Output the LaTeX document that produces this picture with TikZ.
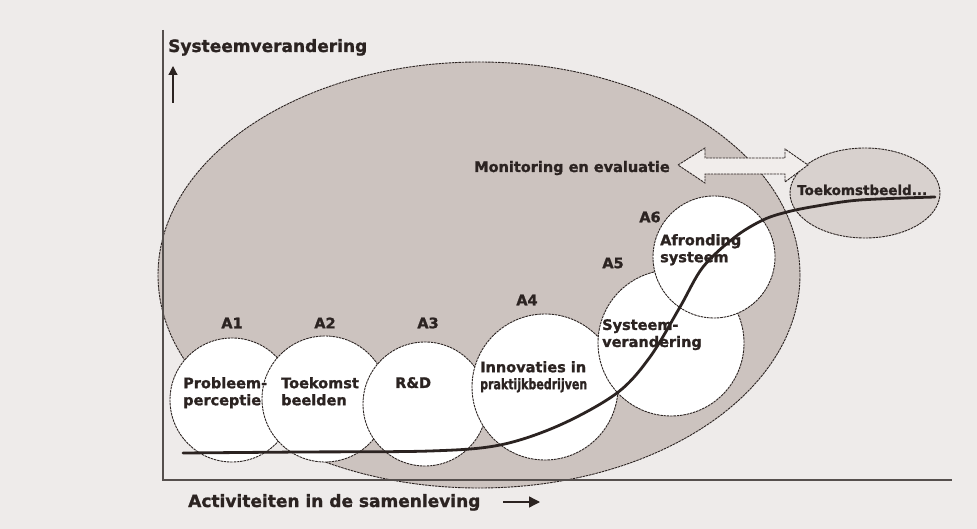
\documentclass[tikz,border=0pt]{standalone}
\usepackage{fontspec}
\setmainfont{DejaVu Sans}
\newfontfamily\heavyfont{DejaVu Sans Bold}[FakeBold=1.3]
\usetikzlibrary{arrows.meta}
\definecolor{bg}{HTML}{EEEBEA}
\definecolor{ell}{HTML}{CCC3BF}
\definecolor{ellb}{HTML}{D8D1CE}
\definecolor{ink}{HTML}{2B2321}
\definecolor{arrfill}{HTML}{F1EDEB}
\tikzset{
  lbl/.style={font=\heavyfont\fontsize{14.5}{17}\selectfont, text=ink, inner sep=0pt, align=left},
  axlbl/.style={font=\heavyfont\fontsize{17}{20}\selectfont, text=ink, inner sep=0pt},
  phase/.style={circle, draw=ink, fill=white, line width=0.9pt, dash pattern=on 2.5pt off 0.8pt, inner sep=0pt},
  outl/.style={draw=ink, line width=0.9pt, dash pattern=on 2.5pt off 0.8pt},
  axis/.style={draw=ink!80, line width=1.1pt},
  scurve/.style={draw=ink, line width=2.8pt, line cap=round}
}
\begin{document}
\begin{tikzpicture}[x=1pt,y=-1pt]
\useasboundingbox (0,0) rectangle (977,529);
\fill[bg] (0,0) rectangle (977,529);
% big ellipse and small ellipse
\path[outl, fill=ell] (479,275) ellipse [x radius=321, y radius=213];
\path[outl, fill=ellb] (865,193) ellipse [x radius=75, y radius=45];
% axes
\coordinate (o) at (163,480);
\coordinate (ytop) at (163,30);
\coordinate (xend) at (952,480);
\draw[axis] (ytop) -- (o) -- (xend);
% double arrow
\draw[outl, fill=arrfill] (678,165) -- (705,148) -- (705,158) -- (785,158) -- (785,149) -- (808,165) -- (785,182) -- (785,174) -- (705,174) -- (705,183) -- cycle;
% phase circles
\node[phase, minimum size=124pt] (a1) at (232,400) {};
\node[phase, minimum size=126pt] (a2) at (325,399) {};
\node[phase, minimum size=124pt] (a3) at (425,404) {};
\node[phase, minimum size=146pt] (a4) at (545,387) {};
\node[phase, minimum size=146pt] (a5) at (671,343) {};
\node[phase, minimum size=122pt] (a6) at (714,257) {};
% S-curve
\draw[scurve] plot[smooth, tension=0.55] coordinates {(183,453) (300,452) (430,451) (500,445) (560,425) (617,393) (650,357) (680,307) (703,267) (735,237) (763,220) (787,212) (817,206) (860,200) (935,197)};
% phase labels
\node[lbl] (la1) at (232,323) {A1};
\node[lbl] (la2) at (325,323) {A2};
\node[lbl] (la3) at (428,323) {A3};
\node[lbl] (la4) at (527,300) {A4};
\node[lbl] (la5) at (613,263) {A5};
\node[lbl] (la6) at (650,217) {A6};
% texts in circles
\node[lbl, anchor=north west] (tprob) at (183,377) {Probleem-\\perceptie};
\node[lbl, anchor=north west] (ttoek) at (281,377) {Toekomst\\beelden};
\node[lbl, anchor=north west] (trd) at (395,377) {R\&D};
\node[lbl, anchor=north west] (tinno) at (480,361) {Innovaties in\\\scalebox{0.76}[1]{praktijkbedrijven}};
\node[lbl, anchor=north west] (tsys) at (602,319) {Systeem-\\verandering};
\node[lbl, anchor=north west] (tafr) at (660,234) {Afronding\\systeem};
% other texts
\node[lbl, anchor=base west] (tmon) at (474,172) {Monitoring en evaluatie};
\node[lbl, anchor=base west, font=\heavyfont\fontsize{13.5}{16}\selectfont] (tbeeld) at (797,195) {Toekomstbeeld...};
\node[axlbl, anchor=base west] (ylab) at (168,52) {Systeemverandering};
\node[axlbl, anchor=base west] (xlab) at (188,507) {Activiteiten in de samenleving};
% axis label arrows
\coordinate (yarrA) at (173,103);
\coordinate (yarrB) at (173,66);
\draw[ink, line width=1.2pt, -{Triangle[length=9pt,width=9pt]}] (yarrA) -- (yarrB);
\coordinate (xarrA) at (503,502);
\coordinate (xarrB) at (540,502);
\draw[ink, line width=1.3pt, -{Triangle[length=11pt,width=11pt]}] (xarrA) -- (xarrB);
\end{tikzpicture}
\end{document}
